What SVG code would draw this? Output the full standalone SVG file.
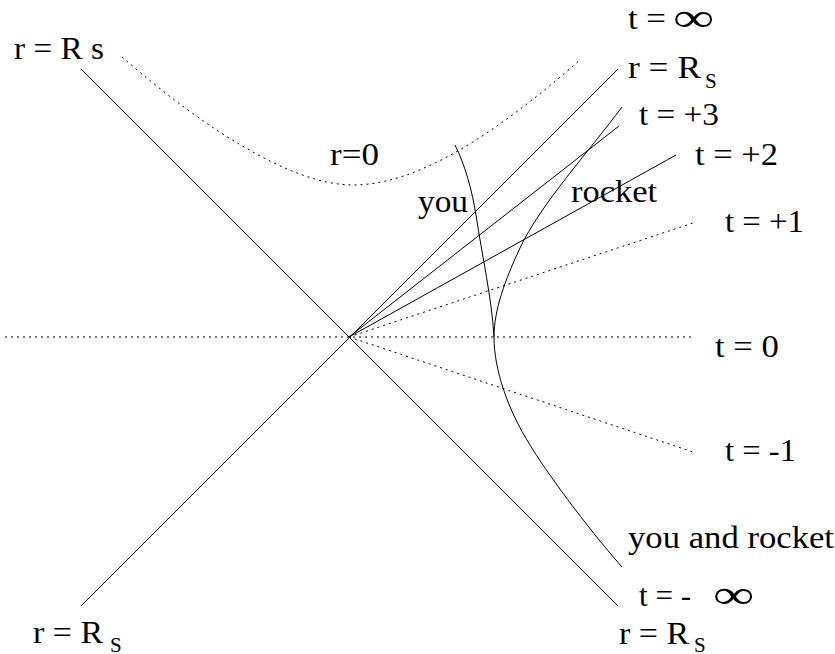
<svg xmlns="http://www.w3.org/2000/svg" width="835" height="654" viewBox="0 0 835 654">
<style>
  .ln { fill: none; stroke: #000; stroke-width: 1; }
  .dt { fill: none; stroke: #000; stroke-width: 1; stroke-dasharray: 2 4; }
</style>
<rect width="835" height="654" fill="#fff"/>
<g id="connectors">
  <path class="ln" d="M81,69 L618,606"/>
  <path class="ln" d="M81,606 L618,69"/>
  <path class="ln" d="M349,337 L619,126"/>
  <path class="ln" d="M349,337 L676,155"/>
  <path class="dt" d="M349,337 L696,222"/>
  <path class="dt" d="M5,337 L694,337"/>
  <path class="dt" d="M349,337 L696,453"/>
  <path class="dt" d="M122,57 C200,125 290,185 353,185 C420,185 500,130 580,60"/>
  <path class="ln" d="M455,145 C465,165 472,190 476,215 C482,255 492,300 494,337"/>
  <path class="ln" d="M622,107 C590,150 540,205 520,248 C505,280 494,310 494,337"/>
  <path class="ln" d="M622,567 C585,525 545,470 530,445 C508,410 494,370 494,337"/>
</g>
<g id="labels" font-family="Liberation Serif, serif" font-size="31" fill="#000">
<g id="label-rRs-topleft"><text x="14" y="59" textLength="90" lengthAdjust="spacingAndGlyphs">r = R s</text></g>
<g id="label-r0"><text x="330" y="165" textLength="49" lengthAdjust="spacingAndGlyphs">r=0</text></g>
<g id="label-you"><text x="418" y="212" textLength="50" lengthAdjust="spacingAndGlyphs">you</text></g>
<g id="label-rocket"><text x="571" y="202" textLength="86" lengthAdjust="spacingAndGlyphs">rocket</text></g>
<g id="label-tinf"><text x="628" y="29" textLength="38" lengthAdjust="spacingAndGlyphs">t =</text><text font-size="40" transform="translate(673,31) scale(1.45,1)">∞</text></g>
<g id="label-rRs-topright"><text x="628" y="78" textLength="73" lengthAdjust="spacingAndGlyphs">r = R</text><text font-size="21" x="705" y="88">S</text></g>
<g id="label-t3"><text x="639" y="125" textLength="80" lengthAdjust="spacingAndGlyphs">t = +3</text></g>
<g id="label-t2"><text x="695" y="165" textLength="83" lengthAdjust="spacingAndGlyphs">t = +2</text></g>
<g id="label-t1"><text x="725" y="232" textLength="79" lengthAdjust="spacingAndGlyphs">t = +1</text></g>
<g id="label-t0"><text x="715" y="357" textLength="64" lengthAdjust="spacingAndGlyphs">t = 0</text></g>
<g id="label-tm1"><text x="725" y="461" textLength="71" lengthAdjust="spacingAndGlyphs">t = -1</text></g>
<g id="label-youandrocket"><text x="628" y="548" textLength="206" lengthAdjust="spacingAndGlyphs">you and rocket</text></g>
<g id="label-tminf"><text x="639" y="606" textLength="52" lengthAdjust="spacingAndGlyphs">t = -</text><text font-size="40" transform="translate(713,608) scale(1.45,1)">∞</text></g>
<g id="label-rRs-bottomright"><text x="619" y="644" textLength="70" lengthAdjust="spacingAndGlyphs">r = R</text><text font-size="21" x="694" y="652">S</text></g>
<g id="label-rRs-bottomleft"><text x="33" y="643" textLength="70" lengthAdjust="spacingAndGlyphs">r = R</text><text font-size="21" x="110" y="652">S</text></g>
</g>
</svg>
